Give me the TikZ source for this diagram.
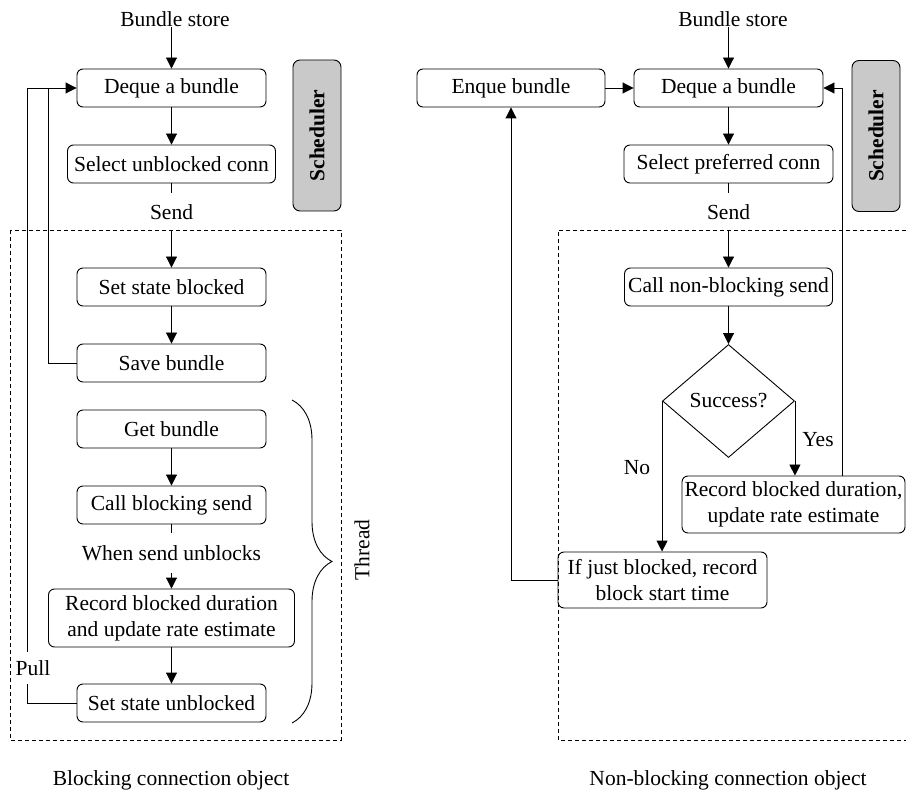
\documentclass[tikz,border=0pt]{standalone}
\usepackage{fontspec}
\setmainfont{Liberation Serif}
\usetikzlibrary{arrows.meta,shapes.geometric,decorations.pathreplacing}
\begin{document}
\begin{tikzpicture}[x=1pt,y=-1pt,
  font=\fontsize{21.5}{26}\selectfont,
  line width=0.9pt,
  arr/.style={-{Triangle[length=11pt,width=11pt]}},
  stepbox/.style={draw,rounded corners=6pt,align=center,inner sep=0pt},
  lbl/.style={inner sep=0pt,align=center},
  gap/.style={inner sep=0pt,minimum height=38pt},
  sched/.style={draw,rounded corners=7pt,fill=black!21,minimum width=48pt,
                minimum height=151pt,inner sep=0pt},
  frame/.style={dash pattern=on 4pt off 3pt,line width=0.8pt}]
\useasboundingbox (0,0) rectangle (906,794);

% ---------------- blocking connection object ----------------
\draw[frame] (10,230) rectangle (341,740);

\node[lbl] (Lstore) at (175,19) {Bundle store};
\node[stepbox,minimum width=189pt,minimum height=38pt] (Ldeq) at (171.5,88) {Deque a bundle};
\node[stepbox,minimum width=208pt,minimum height=38pt] (Lsel) at (171.5,164) {Select unblocked conn};
\node[gap] (Lsend) at (171.5,212) {Send};
\node[stepbox,minimum width=189pt,minimum height=38pt] (Lset) at (171.5,287) {Set state blocked};
\node[stepbox,minimum width=189pt,minimum height=38pt] (Lsave) at (171.5,363) {Save bundle};
\node[stepbox,minimum width=189pt,minimum height=38pt] (Lget) at (171.5,429) {Get bundle};
\node[stepbox,minimum width=189pt,minimum height=38pt] (Lcall) at (171.5,505) {Call blocking send};
\node[gap,minimum height=39pt] (Lwhen) at (171.5,553) {When send unblocks};
\node[stepbox,minimum width=246pt,minimum height=58pt] (Lrec) at (171.5,618) {Record blocked duration\\and update rate estimate};
\node[stepbox,minimum width=189pt,minimum height=38pt] (Lunb) at (171.5,703) {Set state unblocked};
\node[sched] (Lsched) at (317,135.5) {};
\node[rotate=90,font=\fontsize{21.5}{26}\selectfont\bfseries] at (Lsched.center) {Scheduler};

\coordinate (Lout) at (27,88);
\coordinate (Lin) at (48,88);

\draw[arr] (Ldeq.north |- Lstore.south) -- (Ldeq.north);
\draw[arr] (Ldeq) -- (Lsel);
\draw (Lsel.south) -- (Lsend.north);
\draw[arr] (Lsend.south) -- (Lset.north);
\draw[arr] (Lset) -- (Lsave);
\draw[arr] (Lget) -- (Lcall);
\draw (Lcall.south) -- (Lwhen.north);
\draw[arr] (Lwhen.south) -- (Lrec.north);
\draw[arr] (Lrec) -- (Lunb);
\draw (Lsave.west) -| (Lin);
\draw[arr] (Lunb.west) -| (Lout) -- (Ldeq.west);
\node[lbl,fill=white,minimum height=32pt,inner xsep=1pt] (Lpull) at (33,668) {Pull};

\draw[decorate,decoration={brace,amplitude=40pt,aspect=0.5}] (292,400) -- (292,723);
\node[rotate=90,lbl] (Lthread) at (362,550) {Thread};

\node[lbl] (Lcap) at (171,780) {Blocking connection object};

% ---------------- non-blocking connection object ----------------
\draw[frame] (906,230) -- (558,230) -- (558,740) -- (906,740);

\node[lbl] (Rstore) at (733,19) {Bundle store};
\node[stepbox,minimum width=188pt,minimum height=38pt] (Renq) at (511,88) {Enque bundle};
\node[stepbox,minimum width=189pt,minimum height=38pt] (Rdeq) at (728.5,88) {Deque a bundle};
\node[stepbox,minimum width=209pt,minimum height=38pt] (Rsel) at (728.5,164) {Select preferred conn};
\node[gap] (Rsend) at (728.5,212) {Send};
\node[stepbox,minimum width=208pt,minimum height=38pt] (Rcall) at (728.5,287) {Call non-blocking send};
\node[draw,diamond,minimum width=132pt,minimum height=113pt,inner sep=0pt] (Rdia) at (728.5,401) {};
\node[lbl] at (Rdia.center) {Success?};
\node[stepbox,minimum width=223pt,minimum height=57pt] (Rrec) at (793.5,504.5) {Record blocked duration,\\update rate estimate};
\node[stepbox,minimum width=209pt,minimum height=56pt] (Rif) at (662.5,580) {If just blocked, record\\block start time};
\node[sched] (Rsched) at (876,136) {};
\node[rotate=90,font=\fontsize{21.5}{26}\selectfont\bfseries] at (Rsched.center) {Scheduler};
\node[lbl] (Ryes) at (818,440) {Yes};
\node[lbl] (Rno) at (637,468) {No};

\coordinate (Rret) at (842,88);

\draw[arr] (Rdeq.north |- Rstore.south) -- (Rdeq.north);
\draw[arr] (Renq) -- (Rdeq);
\draw[arr] (Rdeq) -- (Rsel);
\draw (Rsel.south) -- (Rsend.north);
\draw[arr] (Rsend.south) -- (Rcall.north);
\draw[arr] (Rcall) -- (Rdia.north);
\draw[arr] (Rdia.east) -- (Rdia.east |- Rrec.north);
\draw[arr] (Rdia.west) -- (Rdia.west |- Rif.north);
\draw[arr] (Rret |- Rrec.north) -- (Rret) -- (Rdeq.east);
\draw[arr] (Rif.west) -| (Renq.south);

\node[lbl] (Rcap) at (728,780) {Non-blocking connection object};
\end{tikzpicture}
\end{document}
